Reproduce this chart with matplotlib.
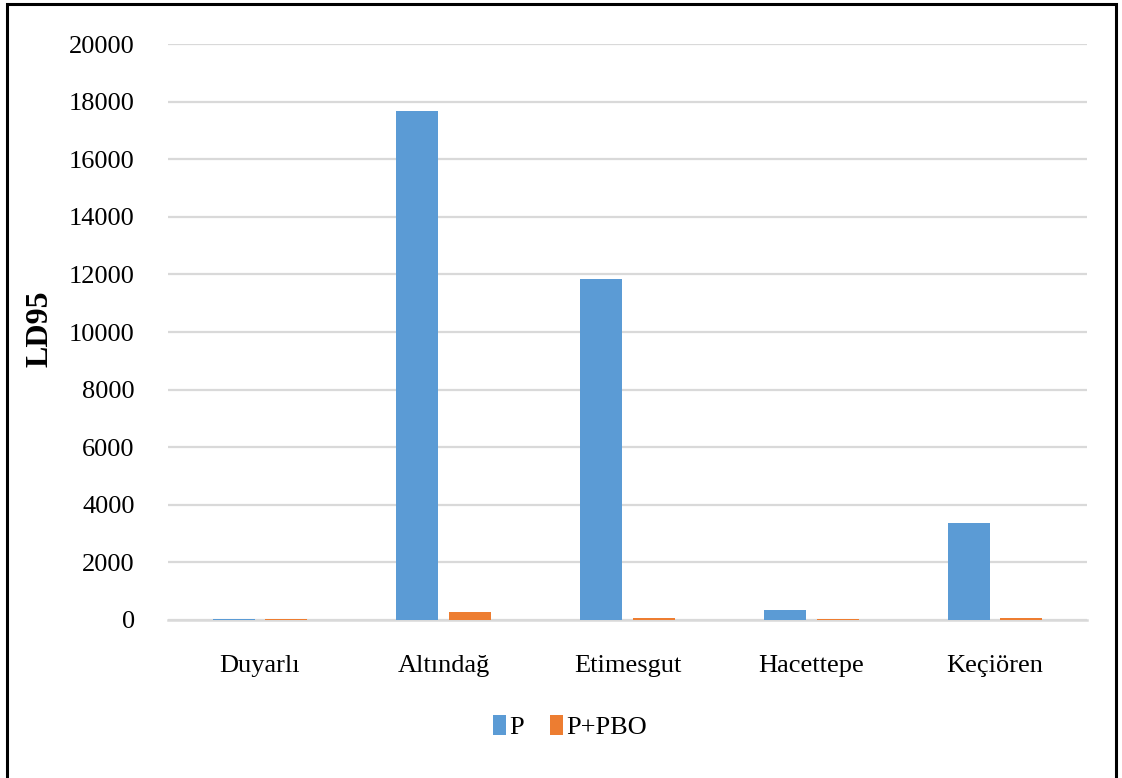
import matplotlib.pyplot as plt
import numpy as np
from matplotlib.patches import Rectangle

plt.rcParams['font.family'] = ['Liberation Serif', 'DejaVu Serif']

districts = ["Duyarlı", "Altındağ", "Etimesgut", "Hacettepe", "Keçiören"]
ld95_p = [50, 17680, 11850, 360, 3360]
ld95_p_pbo = [35, 270, 80, 40, 80]
yticks = list(range(0, 20001, 2000))

blue = "#5B9BD5"
orange = "#ED7D31"

fig = plt.figure(figsize=(11.22, 7.78), dpi=100)
ax = fig.add_axes([0.1497, 0.2031, 0.8191, 0.7403])

x = np.arange(len(districts))
w = 0.228
ax.bar(x - 0.143, ld95_p, w, color=blue, label="P", zorder=3)
ax.bar(x + 0.143, ld95_p_pbo, w, color=orange, label="P+PBO", zorder=3)

ax.set_xlim(-0.5, len(districts) - 0.5)
ax.set_ylim(0, 20000)
ax.set_yticks(yticks)
ax.set_yticklabels([str(t) for t in yticks], fontsize=19)
ax.set_xticks(x)
ax.set_xticklabels(districts, fontsize=19)
ax.tick_params(axis='both', length=0)
ax.tick_params(axis='y', pad=24)
ax.tick_params(axis='x', pad=25)
ax.grid(axis='y', color='#D9D9D9', linewidth=1.6, zorder=0)
for side in ['top', 'right', 'left']:
    ax.spines[side].set_visible(False)
ax.spines['bottom'].set_color('#D9D9D9')
ax.spines['bottom'].set_linewidth(1.8)

fig.text(0.036, 0.577, "LD95", rotation=90, fontsize=23, fontweight='bold',
         ha='center', va='center')

fig.legend(loc='center', bbox_to_anchor=(0.508, 0.066), ncol=2, frameon=False,
           fontsize=19, handlelength=0.5, handleheight=0.8, handletextpad=0.1,
           columnspacing=1.0)

# outer frame
fig.patches.append(Rectangle((0.0065, -0.01), 0.9885, 1.005, transform=fig.transFigure,
                             fill=False, edgecolor='black', linewidth=2.2))

fig.savefig("out.png", dpi=100)
